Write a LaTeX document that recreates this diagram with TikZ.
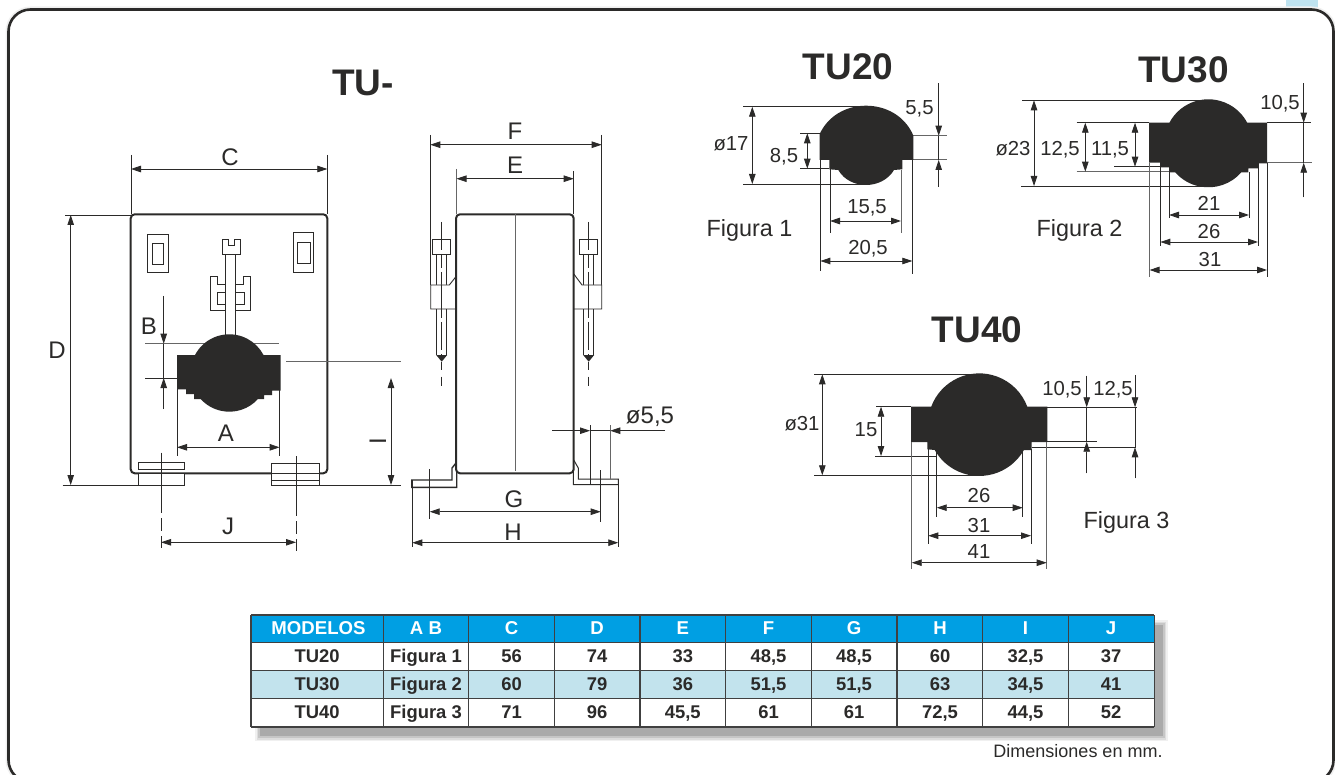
\documentclass[tikz,border=0pt]{standalone}
\usepackage{fontspec}
\setmainfont{Liberation Sans}
\usepackage{xcolor}
\usetikzlibrary{arrows.meta,positioning}
\definecolor{inkdark}{HTML}{2B2A29}
\definecolor{headblue}{HTML}{009FE3}
\definecolor{rowblue}{HTML}{C2E3ED}
\definecolor{tabblue}{HTML}{BFE3F0}
\tikzset{
	dim/.style={line width=0.8pt,inkdark,{Triangle[length=10pt,width=6.5pt]}-{Triangle[length=10pt,width=6.5pt]}},
	lead/.style={line width=0.8pt,inkdark,-{Triangle[length=10pt,width=6.5pt]}},
	ext/.style={line width=0.8pt,inkdark},
	extgrey/.style={line width=1pt,black!60},
	outline/.style={line width=0.9pt,inkdark},
	body/.style={line width=2pt,inkdark},
	core/.style={fill=inkdark,draw=none},
	axis/.style={line width=0.8pt,inkdark,dash pattern=on 13pt off 5pt},
	title/.style={inkdark,font=\fontsize{37}{37}\selectfont\bfseries},
	letter/.style={inkdark,inner sep=0pt,text height=17.2pt,text depth=0pt,font=\fontsize{24}{24}\selectfont},
	size/.style={inkdark,inner sep=0pt,text height=14.6pt,text depth=0pt,font=\fontsize{20.3}{20}\selectfont},
	figlabel/.style={inkdark,inner sep=0pt,text height=16.8pt,text depth=0pt,font=\fontsize{23.4}{23}\selectfont},
	cell/.style={inkdark,inner sep=0pt,text height=13.2pt,text depth=0pt,font=\fontsize{18.4}{18}\selectfont\bfseries},
	headcell/.style={white,inner sep=0pt,text height=13.4pt,text depth=0pt,font=\fontsize{18.6}{18}\selectfont\bfseries},
	notetext/.style={inkdark,inner sep=0pt,text height=13pt,text depth=0pt,font=\fontsize{18}{18}\selectfont},
}
\begin{document}
\begin{tikzpicture}[x=1pt,y=-1pt]
	\useasboundingbox (0,0) rectangle (1335,775);
	\fill[tabblue] (1286,0) rectangle (1318,12);
	\draw[line width=6pt,black!6,rounded corners=22pt] (8.5,9.5) rectangle (1333.5,782);
	\draw[line width=2.6pt,inkdark,fill=white,rounded corners=22pt] (8.5,9.5) rectangle (1333.5,782);

	\node[title] (titleTU) at (363,83) {TU-};
	\node[title] (titleA) at (848,67) {TU20};
	\node[title] (titleB) at (1183.5,70) {TU30};
	\node[title] (titleC) at (977,330) {TU40};

	\draw[ext] (65,215) -- (131,215);
	\draw[ext] (62.7,485) -- (138,485);
	\draw[ext] (319,485) -- (401,485);
	\draw[ext] (131,155) -- (131,214);
	\draw[ext] (327.3,155) -- (327.3,214);
	\draw[dim] (131,169) -- (327.3,169);
	\draw[dim] (70.7,215) -- (70.7,485);
	\draw[dim] (391,378) -- (391,485);
	\node[letter] (labC) at (230,157) {C};
	\node[letter] (labD) at (57,350) {D};
	\node[letter,rotate=90] (labI) at (377.5,441) {I};

	\draw[body,fill=white,rounded corners=4pt] (130.7,214.3) rectangle (327.3,473.3);
	\draw[extgrey] (286,361) -- (401,361);
	\draw[outline] (147.3,234) rectangle (168.3,272.3);
	\draw[outline] (152.3,243.3) rectangle (163.7,264);
	\draw[outline] (293,232.7) rectangle (313.3,272);
	\draw[outline] (297,242) rectangle (310,263.3);
	\draw[outline] (210.3,276) -- (217.3,276) -- (217.3,284) -- (243.3,284) -- (243.3,276) -- (250.7,276) -- (250.7,310.7) -- (210.3,310.7) -- cycle;
	\draw[outline] (217.7,292) rectangle (244.7,304.3);
	\draw[outline,fill=white] (225.3,250) rectangle (235.3,336);
	\draw[outline,fill=white] (222.3,239.3) -- (228.3,239.3) -- (228.3,245.7) -- (234.3,245.7) -- (234.3,239.3) -- (240,239.3) -- (240,254) -- (222.3,254) -- cycle;

	\draw[extgrey] (145,343.7) -- (279,343.7);
	\draw[ext] (145,378) -- (177,378);
	\fill[core] (177,355) -- (195,355) arc[start angle=207.7,end angle=332.3,radius=38.7] -- (280.7,355) -- (280.7,390.7) -- (272,390.7) -- (272,395) -- (264,395) -- (264,399) -- (258,399) arc[start angle=42.2,end angle=137.8,radius=38.7] -- (194,399) -- (194,394) -- (186,394) -- (186,389.3) -- (177,389.3) -- cycle;
	\draw[ext] (177,389) -- (177,455.7);
	\draw[ext] (279.6,390) -- (279.6,455.7);
	\draw[dim] (177,447.3) -- (279.6,447.3);
	\draw[lead] (163.7,296) -- (163.7,343.7);
	\draw[lead] (163.7,409) -- (163.7,378);
	\draw[ext] (163.7,343.7) -- (163.7,378);
	\node[letter] (labB) at (149,326) {B};
	\node[letter] (labA) at (226,433) {A};

	\draw[outline,fill=white] (138.3,462.7) rectangle (184.7,469.3);
	\draw[outline,fill=white] (138.7,473.3) rectangle (184.7,485);
	\draw[outline,fill=white] (271.7,463) rectangle (319.3,485);
	\draw[outline] (271.7,473.3) -- (319.3,473.3);
	\draw[outline] (271.7,480) -- (319.3,480);
	\draw[ext] (161,452.7) -- (161,500);
	\draw[axis] (161,500) -- (161,548);
	\draw[ext] (296,456) -- (296,503);
	\draw[axis] (296,503) -- (296,551);
	\draw[dim] (161,542.3) -- (296,542.3);
	\node[letter] (labJ) at (228,526) {J};

	\draw[ext] (430.3,135) -- (430.3,285);
	\draw[ext] (601.7,135) -- (601.7,285);
	\draw[extgrey] (456.5,169) -- (456.5,214);
	\draw[ext] (573.7,171) -- (573.7,214);
	\draw[dim] (430.3,144.7) -- (601.7,144.7);
	\draw[dim] (456.5,178.7) -- (573.7,178.7);
	\node[letter] (labF) at (515,131) {F};
	\node[letter] (labE) at (515,165) {E};

	\foreach \x in {441.7,588.7} {
		\draw[outline] (\x-5.2,254) -- (\x-5.2,355);
		\draw[outline] (\x+5.2,254) -- (\x+5.2,355);
		\draw[outline] (\x-9,239.3) rectangle (\x+9,254.3);
		\fill[core] (\x-5.5,355) -- (\x+5.5,355) -- (\x,361.7) -- cycle;
		\draw[ext,dash pattern=on 28pt off 4pt on 14pt off 4pt] (\x,222) -- (\x,355);
		\draw[ext] (\x,362) -- (\x,370);
		\draw[ext] (\x,376.7) -- (\x,385.7);
	}
	\draw[outline,fill=white] (456.7,275.7) -- (449.3,285) -- (430.7,285) -- (430.7,309) -- (456.7,309) -- cycle;
	\draw[outline,fill=white] (573.3,273.3) -- (582,285) -- (601.7,285) -- (601.7,309) -- (573.3,309) -- cycle;
	\draw[ext] (441.7,285) -- (441.7,309);
	\draw[ext] (588.7,285) -- (588.7,309);

	\draw[body,line width=1.4pt] (456,463) -- (452,468) -- (452,480) -- (411.7,480) -- (411.7,487.3) -- (456.7,487.3) -- (456.7,470);
	\draw[outline,line width=1pt] (573.7,460) -- (578.3,468) -- (578.3,479) -- (618.3,479) -- (618.3,484.7) -- (573.3,484.7) -- (573.3,470);
	\draw[body,fill=white,rounded corners=4pt] (456,214.3) rectangle (573.7,473.3);
	\draw[extgrey] (515,214.3) -- (515,471);

	\draw[ext] (429.7,469) -- (429.7,519);
	\draw[ext] (600.7,470) -- (600.7,521.7);
	\draw[ext] (412.3,480) -- (412.3,546.7);
	\draw[ext] (618.3,485) -- (618.3,546.7);
	\draw[dim] (429.7,511.7) -- (600.7,511.7);
	\draw[dim] (412.3,542.7) -- (618.3,542.7);
	\node[letter] (labG) at (514,499) {G};
	\node[letter] (labH) at (513,532) {H};
	\draw[ext] (590,425) -- (590,484.7);
	\draw[extgrey] (610.3,425) -- (610.3,479);
	\draw[lead] (552.3,430.7) -- (590,430.7);
	\draw[lead] (665,430.7) -- (610.3,430.7);
	\draw[ext] (590,430.7) -- (610.3,430.7);
	\node[letter] (labHole) at (650,415) {ø5,5};

	\draw[ext] (743.3,106.7) -- (866,106.7);
	\draw[ext] (743.3,184) -- (866,184);
	\draw[ext] (800,133.3) -- (820,133.3);
	\draw[ext] (800,168.7) -- (829,168.7);
	\draw[extgrey] (913,135.7) -- (947,135.7);
	\draw[extgrey] (913,160) -- (947,160);
	\fill[core] (819.7,134) .. controls (828,116) and (846,105.7) .. (866,105.7) .. controls (886,105.7) and (905,116) .. (913.3,135.5) -- (913.3,160) -- (902.3,160) -- (902.3,169.3) -- (894,170) .. controls (888,180) and (877,185) .. (866,185) .. controls (855,185) and (844,180) .. (838.3,170) -- (829.3,169.3) -- (829.3,160) -- (819.7,160) -- cycle;
	\draw[dim] (752.3,106.7) -- (752.3,184);
	\draw[dim] (807.3,133.3) -- (807.3,168.7);
	\draw[lead] (938.7,83.3) -- (938.7,135.7);
	\draw[lead] (938.7,186.7) -- (938.7,160);
	\draw[ext] (938.7,135.7) -- (938.7,160);
	\draw[ext] (830,169) -- (830,232.7);
	\draw[extgrey] (901,170) -- (901,232.7);
	\draw[ext] (820.3,160) -- (820.3,271);
	\draw[ext] (912.3,160) -- (912.3,274.3);
	\draw[dim] (830,221) -- (901,221);
	\draw[dim] (820.3,261) -- (912.3,261);
	\node[size] (sizeAa) at (731,143) {ø17};
	\node[size] (sizeAb) at (784,155) {8,5};
	\node[size] (sizeAc) at (919.5,107) {5,5};
	\node[size] (sizeAd) at (867,206) {15,5};
	\node[size] (sizeAe) at (868,247) {20,5};
	\node[figlabel] (figA) at (749.5,228) {Figura 1};

	\draw[ext] (1022.3,100.3) -- (1208,100.3);
	\draw[ext] (1021,186) -- (1208,186);
	\draw[ext] (1076.7,122.7) -- (1149,122.7);
	\draw[extgrey] (1076.7,171.7) -- (1169,171.7);
	\draw[ext] (1114.3,166.7) -- (1160,166.7);
	\draw[ext] (1267,122.7) -- (1310.7,122.7);
	\draw[extgrey] (1267,162.7) -- (1312,162.7);
	\fill[core] (1149,122.7) -- (1169.4,122.7) arc[start angle=207.9,end angle=332.1,radius=44] -- (1267,122.7) -- (1267,163.3) -- (1258.3,163.3) -- (1258.3,168.3) -- (1248.3,168.3) -- (1248.3,172.3) -- (1241.4,172.3) arc[start angle=41.2,end angle=138.8,radius=44] -- (1169,172.3) -- (1169,167.3) -- (1160,167.3) -- (1160,162.7) -- (1149,162.7) -- cycle;
	\draw[dim] (1034,100.3) -- (1034,186);
	\draw[dim] (1085.3,122.7) -- (1085.3,171.7);
	\draw[dim] (1135,122.7) -- (1135,166.7);
	\draw[lead] (1303.7,83.3) -- (1303.7,122.7);
	\draw[lead] (1303.7,197.3) -- (1303.7,162.7);
	\draw[ext] (1303.7,122.7) -- (1303.7,162.7);
	\draw[ext] (1169,172) -- (1169,218.3);
	\draw[ext] (1249,172) -- (1249,218.3);
	\draw[ext] (1160.3,163) -- (1160.3,245.7);
	\draw[ext] (1258,163) -- (1258,245.7);
	\draw[extgrey] (1149.5,163) -- (1149.5,276.7);
	\draw[ext] (1267,163) -- (1267,276.7);
	\draw[dim] (1169,215) -- (1249,215);
	\draw[dim] (1160.3,242) -- (1258,242);
	\draw[dim] (1149.5,270) -- (1267,270);
	\node[size] (sizeBa) at (1013,148) {ø23};
	\node[size] (sizeBb) at (1060,148) {12,5};
	\node[size] (sizeBc) at (1110,148) {11,5};
	\node[size] (sizeBd) at (1280,102) {10,5};
	\node[size] (sizeBe) at (1209,203) {21};
	\node[size] (sizeBf) at (1209,231) {26};
	\node[size] (sizeBg) at (1210,259) {31};
	\node[figlabel] (figB) at (1079.5,228) {Figura 2};

	\draw[ext] (814,374.3) -- (979,374.3);
	\draw[ext] (814,475.3) -- (979,475.3);
	\draw[ext] (876,406.7) -- (911,406.7);
	\draw[ext] (875,456) -- (937,456);
	\draw[ext] (1047,407.3) -- (1136.7,407.3);
	\draw[ext] (1047,441.7) -- (1096.7,441.7);
	\draw[ext] (1032,447.3) -- (1136,447.3);
	\fill[core] (911,406.7) -- (931.2,406.7) arc[start angle=200.5,end angle=339.5,radius=51.3] -- (1047.3,406.7) -- (1047.3,442) -- (1031.7,442) -- (1031.7,450) -- (1023.9,450) arc[start angle=29.6,end angle=150.4,radius=51.3] -- (927.3,449.3) -- (927.3,442) -- (911,442) -- cycle;
	\draw[dim] (822.3,374.3) -- (822.3,475.3);
	\draw[dim] (881,406.7) -- (881,456);
	\draw[lead] (1086.7,375.7) -- (1086.7,407.3);
	\draw[lead] (1086.7,473.3) -- (1086.7,441.7);
	\draw[ext] (1086.7,407.3) -- (1086.7,441.7);
	\draw[lead] (1135,375) -- (1135,407.3);
	\draw[lead] (1135,478.3) -- (1135,447.3);
	\draw[ext] (1135,407.3) -- (1135,447.3);
	\draw[ext] (936.7,450) -- (936.7,517.3);
	\draw[ext] (1022.7,450) -- (1022.7,517.3);
	\draw[ext] (928.3,449) -- (928.3,544.3);
	\draw[ext] (1031,449) -- (1031,544.3);
	\draw[extgrey] (911.7,442) -- (911.7,568.7);
	\draw[extgrey] (1046.7,442) -- (1046.7,568.7);
	\draw[dim] (936.7,507.7) -- (1022.7,507.7);
	\draw[dim] (928.3,535.7) -- (1031,535.7);
	\draw[dim] (911.7,562.7) -- (1046.7,562.7);
	\node[size] (sizeCa) at (802,423) {ø31};
	\node[size] (sizeCb) at (866,429) {15};
	\node[size] (sizeCc) at (1062,388) {10,5};
	\node[size] (sizeCd) at (1113,388) {12,5};
	\node[size] (sizeCe) at (979,495) {26};
	\node[size] (sizeCf) at (979,525) {31};
	\node[size] (sizeCg) at (979,551) {41};
	\node[figlabel] (figC) at (1126.5,520) {Figura 3};

	\foreach \d/\o in {0/0.06,1.5/0.08,3/0.1,5/0.14}
		\fill[black,opacity=\o] (255+\d,620+\d) rectangle (1167.7-\d,741-\d);
	\fill[headblue] (251,615) rectangle (1154.3,642.7);
	\fill[white] (251,642.7) rectangle (1154.3,670.7);
	\fill[rowblue] (251,670.7) rectangle (1154.3,698.7);
	\fill[white] (251,698.7) rectangle (1154.3,727);
	\foreach \x in {251,383.3,468.7,554.3,640,725.7,811.3,897,982.7,1068.3,1154.3}
		\draw[line width=1.2pt,black!75] (\x,615) -- (\x,727);
	\foreach \y in {615,642.7,670.7,698.7,727}
		\draw[line width=1.2pt,black!75] (251,\y) -- (1154.3,\y);

	\foreach \x/\v/\n in {318.5/MODELOS/a,426/A B/b,511.5/C/c,597/D/d,682.8/E/e,768.5/F/f,854/G/g,940/H/h,1025.5/I/i,1111/J/j}
		\node[headcell] (head-\n) at (\x,627.7) {\v};
	\foreach \x/\v/\n in {317/TU20/a,426/Figura 1/b,511.5/56/c,597/74/d,682.8/33/e,{768.5/48,5/f},{854/48,5/g},940/60/h,{1025.5/32,5/i},1111/37/j}
		\node[cell] (rowA-\n) at (\x,655.7) {\v};
	\foreach \x/\v/\n in {317/TU30/a,426/Figura 2/b,511.5/60/c,597/79/d,682.8/36/e,{768.5/51,5/f},{854/51,5/g},940/63/h,{1025.5/34,5/i},1111/41/j}
		\node[cell] (rowB-\n) at (\x,684) {\v};
	\foreach \x/\v/\n in {317/TU40/a,426/Figura 3/b,511.5/71/c,597/96/d,{682.8/45,5/e},768.5/61/f,854/61/g,{940/72,5/h},{1025.5/44,5/i},1111/52/j}
		\node[cell] (rowC-\n) at (\x,711.7) {\v};
	\node[notetext] (note) at (1078,751) {Dimensiones en mm.};
\end{tikzpicture}
\end{document}
